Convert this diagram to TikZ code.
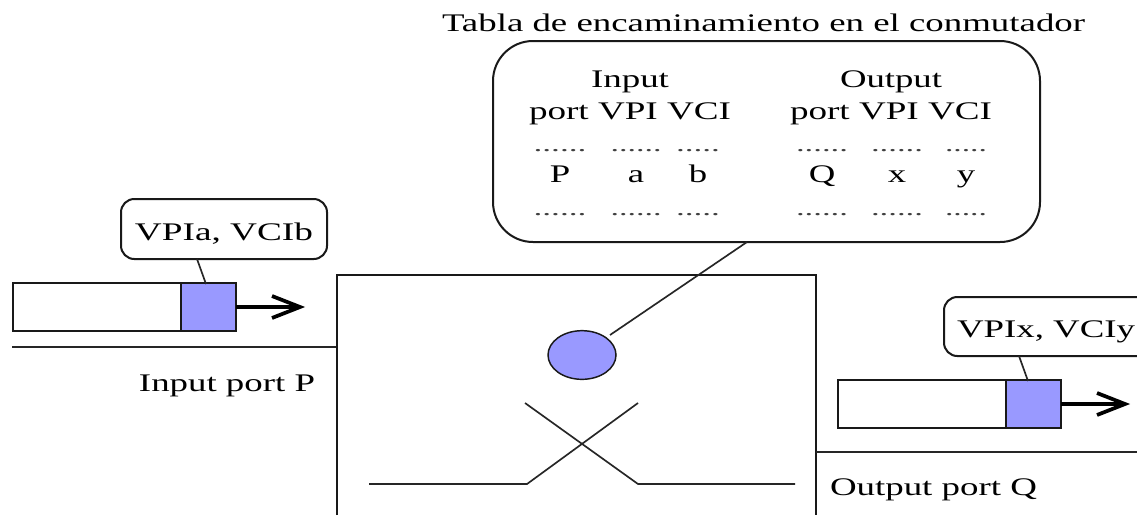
\documentclass[tikz,border=0pt]{standalone}
\usepackage{fontspec}
\usepackage{graphicx}
\usetikzlibrary{shapes.geometric}
\setmainfont{Liberation Serif}
\definecolor{blu}{RGB}{153,153,255}
\newcommand{\tw}[2]{\resizebox{#1\dimexpr0.75pt\relax}{\height}{#2}}
\newcommand{\sx}[1]{\scalebox{1.45}[1]{#1}}
\newcommand{\dotsix}{{.}{.}{.}{.}{.}{.}}
\newcommand{\dotfive}{{.}{.}{.}{.}{.}}
\tikzset{
  txt/.style={inner sep=0pt,anchor=base,font=\fontsize{19}{21}\selectfont,text=black},
  dotrow/.style={txt,font=\fontsize{15}{17}\selectfont,text=black!75},
  ln/.style={draw=black!85,line width=1.25pt},
  thick2/.style={draw=black!90,line width=1.5pt},
  boxw/.style={draw=black!90,line width=1.5pt,fill=white,inner sep=0pt,outer sep=0pt,anchor=north west,minimum height=36pt},
  boxb/.style={boxw,fill=blu},
  arr/.style={draw=black,line width=2.8pt,line join=miter},
}
\begin{document}
\begin{tikzpicture}[x=0.75pt,y=-0.75pt]
\useasboundingbox (0,0) rectangle (1137,515);
\fill[white] (0,0) rectangle (1137,515);
% title and table
\node[txt] (title) at (763.5,31) {\tw{643}{Tabla de encaminamiento en el conmutador}};
\draw[thick2,rounded corners=30pt] (493,41) rectangle (1040,242);
\coordinate (tb) at (747,242);
\node[txt] (t1) at (630,87) {\tw{78}{Input}};
\node[txt] (t2) at (630,119) {\tw{202}{port VPI VCI}};
\node[txt] (t3) at (891,87) {\tw{102}{Output}};
\node[txt] (t4) at (891,119) {\tw{202}{port VPI VCI}};
\foreach \n/\xx/\s/\w/\dd in {a/560/P/53/\dotsix,b/636/a/51/\dotsix,c/698/b/44/\dotfive,d/822/Q/52/\dotsix,e/897/x/52/\dotsix,f/966/y/42/\dotfive}{
  \node[txt] (r\n) at (\xx,182) {\sx{\s}};
  \node[dotrow] (u\n) at (\xx,151) {\tw{\w}{\dd}};
  \node[dotrow] (v\n) at (\xx,215) {\tw{\w}{\dd}};
}
% left queue
\draw[thick2,rounded corners=10pt] (121,199) rectangle (327,259);
\node[txt] (lab1) at (224,240) {\tw{178}{VPIa, VCIb}};
\coordinate (lc1) at (197,259);
\node[boxw,minimum width=126pt] (q1) at (13,283) {};
\node[boxb,minimum width=41.5pt] (c1) at (181,283) {};
\coordinate (lt1) at (206,284);
\draw[ln] (lc1) -- (lt1);
\coordinate (a1) at (300,307);
\coordinate (a1u) at (272,296);
\coordinate (a1d) at (272,318);
\draw[arr] (c1.east) -- (a1);
\draw[arr] (a1u) -- (a1) -- (a1d);
\coordinate (l1) at (12,347);
\coordinate (l1e) at (337,347);
\draw[ln] (l1) -- (l1e);
\node[txt] (ip) at (227,391) {\tw{176}{Input port P}};
% switch
\coordinate (sbl) at (337,515);
\coordinate (stl) at (337,275);
\coordinate (str) at (816,275);
\coordinate (sbr) at (816,515);
\draw[thick2] (sbl) -- (stl) -- (str) -- (sbr);
\node[ellipse,draw=black!90,line width=1.1pt,fill=blu,minimum width=51pt,minimum height=36.5pt,inner sep=0pt] (c) at (582,355) {};
\coordinate (ce) at (610,335);
\draw[ln] (ce) -- (tb);
\coordinate (x1) at (369,484);
\coordinate (x2) at (527,484);
\coordinate (x3) at (638,403);
\coordinate (x4) at (795,484);
\coordinate (x5) at (638,484);
\coordinate (x6) at (525,403);
\draw[ln] (x1) -- (x2) -- (x3);
\draw[ln] (x4) -- (x5) -- (x6);
% right queue
\coordinate (l2) at (816,452);
\coordinate (l2e) at (1137,452);
\draw[ln] (l2) -- (l2e);
\node[txt] (op) at (933.5,495) {\tw{207}{Output port Q}};
\coordinate (b1) at (1137,297);
\coordinate (b2) at (944,297);
\coordinate (b3) at (944,356);
\coordinate (b4) at (1137,356);
\draw[thick2,rounded corners=10pt] (b1) -- (b2) -- (b3) -- (b4);
\node[txt] (lab2) at (1046,337) {\tw{178}{VPIx, VCIy}};
\node[boxw,minimum width=126pt] (q2) at (838,380) {};
\node[boxb,minimum width=41.5pt] (c2) at (1006,380) {};
\coordinate (lc2) at (1019,356);
\coordinate (lt2) at (1028,381);
\draw[ln] (lc2) -- (lt2);
\coordinate (a2) at (1125,404);
\coordinate (a2u) at (1097,393);
\coordinate (a2d) at (1097,415);
\draw[arr] (c2.east) -- (a2);
\draw[arr] (a2u) -- (a2) -- (a2d);
\end{tikzpicture}
\end{document}
